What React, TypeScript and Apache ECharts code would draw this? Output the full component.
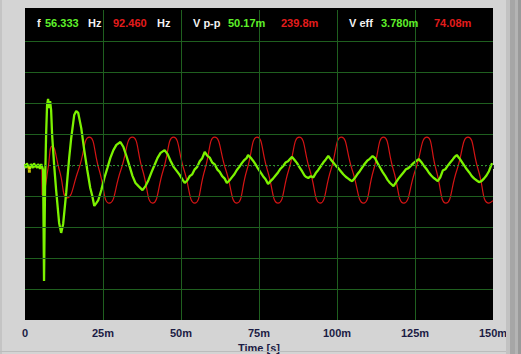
import React, { useEffect, useRef } from 'react';
import * as echarts from 'echarts';

// ---- data ----
const X_TICK_LABELS = ['0', '25m', '50m', '75m', '100m', '125m', '150m'];
const X_NAME = 'Time [s]';
const X_GRID = [25, 50, 75, 100, 125];
const Y_GRID = [-4, -3, -2, -1, 1, 2, 3, 4];

const FREQ_VALUES = ['56.333', '92.460'];
const VPP_VALUES = ['50.17m', '239.8m'];
const VEFF_VALUES = ['3.780m', '74.08m'];

// red channel onset: time (ms), value (divisions)
const RED_ONSET: [number, number][] = [
  [0, -0.06], [5.4, -0.06], [5.5, -0.97],
];

// red channel oscillation: time (ms), value (divisions)
const RED: [number, number][] = [
  [5.5, -0.97], [6.2, -0.85], [7.4, -0.1], [8.7, 0.61],
  [11.1, -0.2], [13.5, -1.06], [17.1, -0.17], [20.6, 0.9], [23.8, -0.17], [27.0, -1.23],
  [30.7, -0.17], [34.4, 0.9], [37.7, -0.17], [40.9, -1.23], [44.3, -0.17], [47.6, 0.9],
  [51.0, -0.17], [54.4, -1.23], [57.6, -0.17], [60.8, 0.9], [64.4, -0.17], [67.9, -1.23],
  [71.1, -0.17], [74.4, 0.9], [77.7, -0.17], [81.1, -1.23], [84.5, -0.17], [87.9, 0.9],
  [91.3, -0.17], [94.6, -1.23], [98.0, -0.17], [101.4, 0.9], [104.9, -0.17], [108.5, -1.23],
  [111.7, -0.17], [114.9, 0.9], [118.1, -0.17], [121.4, -1.23], [125.1, -0.17], [128.8, 0.9],
  [131.8, -0.17], [134.9, -1.23], [138.4, -0.17], [142.0, 0.9], [145.3, -0.17], [148.7, -1.23],
  [150, -1.15],
];

// green channel: time (ms), value (divisions)
const GREEN: [number, number][] = [
  [0, 0.03], [0.3, -0.1], [0.6, 0.06], [1.0, -0.06], [1.3, 0], [1.6, -0.13], [1.9, 0.03],
  [2.3, -0.03], [2.6, -0.1], [2.9, 0.06], [3.2, -0.06], [3.5, 0], [3.9, -0.1], [4.2, 0.03],
  [4.5, -0.03], [4.8, -0.13], [5.2, 0.03], [5.5, -0.06],
  [5.8, -0.16], [6.1, -3.74], [6.3, -1.8], [6.45, -0.5], [6.76, 0.97], [7.08, 1.94],
  [7.4, 2.13], [7.73, 1.84], [8.05, 2.06], [8.37, 1.77], [8.69, 0.97], [9.34, 0],
  [9.98, -0.81], [10.94, -1.87], [11.59, -2.19], [12.23, -1.9], [13.2, -0.9], [14.16, 0.23],
  [14.81, 0.87], [15.77, 1.61], [16.42, 1.74], [17.06, 1.68], [18.03, 1.19], [18.99, 0.48],
  [19.96, -0.16], [20.92, -0.74], [21.57, -1.0], [22.21, -1.32], [22.85, -1.23], [23.5, -1.13],
  [24.46, -0.81], [25.43, -0.42], [26.4, -0.1], [27.36, 0.23], [28.33, 0.48], [29.29, 0.65],
  [30.58, 0.74], [31.55, 0.58], [32.51, 0.29], [33.48, -0.03], [34.44, -0.35], [35.41, -0.58],
  [36.37, -0.68], [37.66, -0.81], [38.63, -0.68], [39.59, -0.48], [40.56, -0.23], [41.52, 0],
  [42.49, 0.23], [43.46, 0.39], [44.74, 0.48], [45.71, 0.35], [46.67, 0.13], [47.64, -0.06],
  [48.61, -0.19], [49.57, -0.32], [50.54, -0.48],
  [51.2, -0.58], [52.0, -0.5], [52.8, -0.36], [53.6, -0.3], [54.4, -0.14], [55.2, -0.06],
  [56.0, 0.12], [56.8, 0.22], [57.6, 0.42], [58.4, 0.3], [59.2, 0.24], [60.0, 0.08],
  [60.8, 0.02], [61.6, -0.14], [62.4, -0.22], [63.2, -0.36], [64.0, -0.44], [64.7, -0.58],
  [65.5, -0.5], [66.3, -0.4], [67.1, -0.3], [67.9, -0.16], [68.7, -0.06], [69.5, 0.06],
  [70.3, 0.16], [71.0, 0.22], [71.5, 0.32], [72.3, 0.24], [73.1, 0.14], [73.9, 0.02],
  [74.7, -0.12], [75.5, -0.24], [76.3, -0.36], [77.1, -0.46], [77.9, -0.61], [78.7, -0.52],
  [79.5, -0.44], [80.3, -0.34], [81.1, -0.24], [81.9, -0.12], [82.7, -0.04], [83.5, 0.08],
  [84.3, 0.12], [85.0, 0.2], [85.6, 0.26], [86.4, 0.16], [87.2, 0.06], [88.0, -0.08],
  [88.8, -0.2], [89.6, -0.34], [90.0, -0.38], [90.8, -0.42], [91.6, -0.36], [92.4, -0.4],
  [93.2, -0.26], [94.0, -0.16], [94.8, -0.04], [95.6, 0.08], [96.4, 0.18], [97.2, 0.29],
  [98.0, 0.18], [98.8, 0.08], [99.6, -0.02], [100.4, -0.1], [101.2, -0.2], [102.0, -0.3],
  [102.8, -0.38], [103.6, -0.44], [104.4, -0.5], [104.9, -0.52], [105.7, -0.42], [106.5, -0.3],
  [107.3, -0.2], [108.1, -0.08], [108.9, 0.04], [109.7, 0.14], [110.5, 0.2], [111.4, 0.29],
  [112.2, 0.22], [113.0, 0.06], [113.8, -0.08], [114.6, -0.22], [115.4, -0.34], [116.2, -0.48],
  [117.0, -0.58], [118.1, -0.68], [118.9, -0.56], [119.7, -0.44], [120.5, -0.34], [121.3, -0.24],
  [122.1, -0.14], [122.9, -0.1], [123.7, -0.02], [124.5, 0.06], [125.3, 0.12], [126.2, 0.19],
  [127.0, 0.1], [127.8, -0.02], [128.6, -0.12], [129.4, -0.24], [130.2, -0.34], [131.0, -0.42],
  [131.6, -0.46], [132.3, -0.52], [133.1, -0.4], [133.9, -0.18], [134.7, -0.14], [135.5, -0.02],
  [136.3, 0.08], [137.1, 0.18], [137.7, 0.26], [138.4, 0.32], [139.2, 0.22], [140.0, 0.1],
  [140.8, -0.02], [141.6, -0.14], [142.4, -0.24], [143.2, -0.36], [144.0, -0.44], [144.8, -0.5],
  [145.5, -0.55], [146.3, -0.52], [147.1, -0.44], [147.9, -0.34], [148.7, -0.2], [149.7, 0.06],
];

// cursor marker (yellow)
const CURSOR: [number, number][] = [[1.3, -0.1], [1.4, -0.2]];

// ---- styles ----
const GRID_GREEN = '#1f5f1f';
const TXT_FONT = 'bold 11px "Liberation Sans", Arial, sans-serif';
const WHITE = '#f2f2f2';
const GREEN_TXT = '#5ef02a';
const RED_TXT = '#e41c1c';
const AXIS_TXT = '#1c1c44';

function headerText(text: string, x: number, fill: string) {
  return {
    type: 'text',
    x,
    y: 23,
    z: 10,
    style: { text, fill, font: TXT_FONT, textAlign: 'left', textVerticalAlign: 'middle' },
  };
}

export default function App() {
  const ref = useRef<HTMLDivElement>(null);
  useEffect(() => {
    const chart = echarts.init(ref.current!, null, { renderer: 'svg', width: 521, height: 354 });
    const gridLines: any[] = [
      ...X_GRID.map((v) => ({ xAxis: v, lineStyle: { color: GRID_GREEN, width: 1, type: 'solid' } })),
      ...Y_GRID.map((v) => ({ yAxis: v, lineStyle: { color: GRID_GREEN, width: 1, type: 'solid' } })),
      { yAxis: 0, lineStyle: { color: '#2b8f2b', width: 1, type: [2, 2] } },
    ];
    const option: any = {
      animation: false,
      backgroundColor: '#d4d4d4',
      grid: {
        left: 25, right: 28, top: 10, bottom: 34,
        containLabel: false, outerBoundsMode: 'none',
        show: true, backgroundColor: '#000', borderWidth: 0,
      },
      xAxis: [{
        type: 'value', min: 0, max: 150, interval: 25,
        axisLine: { show: false },
        axisTick: { show: true, length: 4, lineStyle: { color: '#2a2a3a', width: 1 } },
        minorTick: { show: true, splitNumber: 10, length: 2, lineStyle: { color: '#2a2a3a', width: 1 } },
        axisLabel: {
          formatter: (v: number) => X_TICK_LABELS[Math.round(v / 25)] ?? '',
          color: AXIS_TXT, fontWeight: 'bold', fontSize: 11,
          fontFamily: '"Liberation Sans", Arial, sans-serif', margin: 7,
        },
        splitLine: { show: false },
        minorSplitLine: { show: false },
        name: X_NAME, nameLocation: 'middle', nameGap: 15,
        nameTextStyle: {
          color: AXIS_TXT, fontWeight: 'bold', fontSize: 11,
          fontFamily: '"Liberation Sans", Arial, sans-serif',
        },
      }],
      yAxis: [{
        type: 'value', min: -5, max: 5, interval: 1,
        axisLine: { show: false }, axisTick: { show: false }, axisLabel: { show: false },
        splitLine: { show: false },
      }],
      series: [
        {
          type: 'line', data: [], z: 1, silent: true, symbol: 'none',
          markLine: { silent: true, symbol: 'none', label: { show: false }, data: gridLines, animation: false },
        },
        {
          type: 'line', data: RED_ONSET, showSymbol: false, symbol: 'none',
          lineStyle: { color: '#d41414', width: 1.2 }, z: 2, silent: true,
        },
        {
          type: 'line', data: RED, showSymbol: false, symbol: 'none',
          smooth: 0.55,
          lineStyle: { color: '#d41414', width: 1.2 }, z: 2, silent: true,
        },
        {
          type: 'line', data: GREEN, showSymbol: false, symbol: 'none',
          lineStyle: { color: '#7cf200', width: 2.3 }, z: 3, silent: true,
        },
        {
          type: 'scatter', data: CURSOR, symbol: 'rect', symbolSize: 3,
          itemStyle: { color: '#f0e800' }, z: 4, silent: true,
        },
      ],
      graphic: [
        { type: 'rect', shape: { x: 25, y: 8, width: 468, height: 2 }, style: { fill: '#000' }, z: 1 },
        { type: 'rect', shape: { x: 506, y: 0, width: 4, height: 354 }, style: { fill: '#c2c2c2' }, z: 1 },
        { type: 'rect', shape: { x: 510, y: 0, width: 5, height: 354 }, style: { fill: '#a6a6a6' }, z: 1 },
        { type: 'rect', shape: { x: 515, y: 0, width: 3, height: 354 }, style: { fill: '#b4b4b4' }, z: 1 },
        { type: 'rect', shape: { x: 518, y: 0, width: 3, height: 354 }, style: { fill: '#9a9a9a' }, z: 1 },
        { type: 'rect', shape: { x: 0, y: 0, width: 2, height: 354 }, style: { fill: '#c4c4c4' }, z: 1 },
        { type: 'rect', shape: { x: 0, y: 351, width: 506, height: 1 }, style: { fill: '#bcbcbc' }, z: 1 },
        headerText('f', 37, WHITE),
        headerText(FREQ_VALUES[0], 45, GREEN_TXT),
        headerText('Hz', 88, WHITE),
        headerText(FREQ_VALUES[1], 113, RED_TXT),
        headerText('Hz', 157, WHITE),
        headerText('V p-p', 193, WHITE),
        headerText(VPP_VALUES[0], 228, GREEN_TXT),
        headerText(VPP_VALUES[1], 281, RED_TXT),
        headerText('V eff', 349, WHITE),
        headerText(VEFF_VALUES[0], 381, GREEN_TXT),
        headerText(VEFF_VALUES[1], 434, RED_TXT),
      ],
    };
    chart.setOption(option);
    return () => chart.dispose();
  }, []);
  return (
    <div
      ref={ref}
      style={{ position: 'fixed', left: 0, top: 0, width: 521, height: 354, background: '#d4d4d4' }}
    />
  );
}
